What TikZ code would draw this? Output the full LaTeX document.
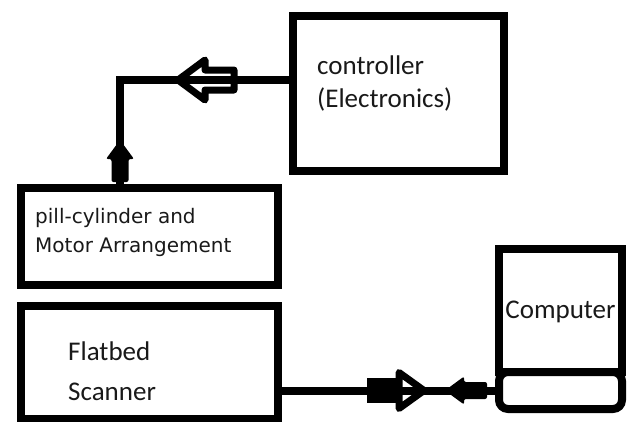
\documentclass[tikz,border=0pt]{standalone}
\usepackage{fontspec}
\setmainfont{Carlito}
\newfontfamily\pillfont{DejaVu Sans}
\usetikzlibrary{arrows.meta,positioning,calc}
\definecolor{inkcol}{RGB}{0,0,0}
\definecolor{textcol}{RGB}{25,25,25}

\begin{document}
\begin{tikzpicture}[x=1pt,y=-1pt,
  blk/.style={draw=inkcol,line width=8pt,rectangle,inner sep=0pt},
  lbl/.style={anchor=base west,inner sep=0pt,text=textcol,font=\fontsize{27}{32}\selectfont},
  pilllbl/.style={lbl,font=\pillfont\fontsize{20}{24}\selectfont},
  wire/.style={draw=inkcol,line width=8pt},
  hollowtip/.pic={\draw[inkcol,line width=7pt,line join=round]
     (0,0)--(-27,-20)--(-27,-10)--(-56,-10)--(-56,10)--(-27,10)--(-27,20)--cycle;},
  openheadtip/.pic={\fill[inkcol](-57,-12.5) rectangle (-25,12.5);
     \draw[inkcol,line width=7pt,line join=round](0,0)--(-25,-18)--(-25,18)--cycle;},
  solidtip/.pic={\fill[inkcol,rounded corners=2pt]
     (0,0)--(-19,-14)--(-19,-8.5)--(-42,-8.5)--(-42,8.5)--(-19,8.5)--(-19,14)--cycle;}]
  \useasboundingbox (0,0) rectangle (632,421);
  % boxes
  \node[blk,minimum width=211pt,minimum height=155pt] (ctrl) at (398.5,93.5){};
  \node[blk,minimum width=257pt,minimum height=97pt] (pill) at (149.5,236.5){};
  \node[blk,minimum width=257pt,minimum height=113pt] (scan) at (149.5,362.5){};
  \node[blk,minimum width=123pt,minimum height=123pt] (mon) at (560.5,310.5){};
  \node[blk,rounded corners=9pt,minimum width=123pt,minimum height=37pt] (kbd) at (560.5,390.5){};
  % labels
  \node[lbl] (ctrlA) at (317,74) {controller};
  \node[lbl] (ctrlB) at (317,107) {(Electronics)};
  \node[pilllbl] (pillA) at (35,223) {pill-cylinder and};
  \node[pilllbl] (pillB) at (35,252) {Motor Arrangement};
  \node[lbl] (scanA) at (68,360) {Flatbed};
  \node[lbl] (scanB) at (68,400) {Scanner};
  \node[lbl,anchor=base] (comp) at (mon.center |- 0,318) {Computer};
  % connectors
  \coordinate (bend) at (120,80);
  \draw[wire] (ctrl.west |- bend) -- (bend) -- (pill.north -| bend);
  \draw[wire] (scan.east |- kbd.west) -- (kbd.west);
  % arrow marks
  \pic[rotate=180] at (178,80) {hollowtip};
  \pic[rotate=90] at (120,140) {solidtip};
  \pic at (424,390.5) {openheadtip};
  \pic[rotate=180] at (445,390.5) {solidtip};
\end{tikzpicture}
\end{document}
